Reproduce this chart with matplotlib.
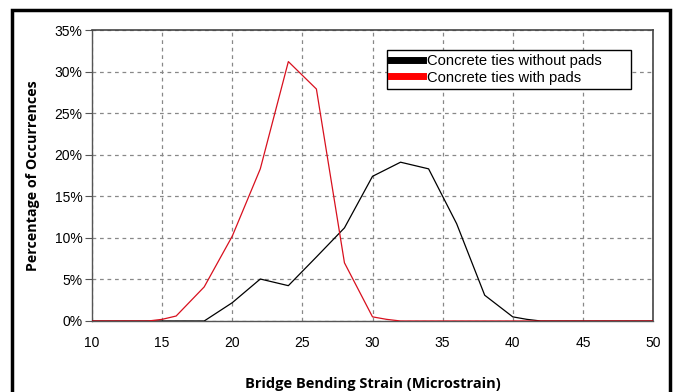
import matplotlib
matplotlib.use("Agg")
import matplotlib.pyplot as plt
from matplotlib.patches import Rectangle
from matplotlib.ticker import FuncFormatter

# Data
x_without = [10, 18, 20, 22, 24, 26, 28, 30, 32, 34, 36, 38, 40, 41, 42, 50]
y_without = [0, 0, 2.2, 5.05, 4.25, 7.7, 11.2, 17.4, 19.1, 18.3, 11.7, 3.1, 0.5, 0.2, 0, 0]
x_with = [10, 14, 15, 16, 18, 20, 22, 24, 26, 28, 30, 31, 32, 50]
y_with = [0, 0, 0.2, 0.6, 4.1, 10.2, 18.3, 31.2, 27.9, 7.0, 0.5, 0.2, 0, 0]
label_without = "Concrete ties without pads"
label_with = "Concrete ties with pads"
x_ticks = [10, 15, 20, 25, 30, 35, 40, 45, 50]
y_ticks = [0, 5, 10, 15, 20, 25, 30, 35]

W, H = 675, 392
fig = plt.figure(figsize=(W / 100, H / 100), dpi=100)
ax = fig.add_axes([92 / W, 1 - 321 / H, (653 - 92) / W, (321 - 30) / H])

ax.plot(x_without, y_without, color="black", lw=0.9, label=label_without, zorder=3)
ax.plot(x_with, y_with, color="#d8101e", lw=0.9, label=label_with, zorder=4)

ax.set_xlim(10, 50)
ax.set_ylim(0, 35)
ax.set_xticks(x_ticks)
ax.set_yticks(y_ticks)
ax.yaxis.set_major_formatter(FuncFormatter(lambda v, p: f"{int(v)}%"))
ax.grid(True, color="#888888", linestyle=(0, (3, 3)), lw=0.9)
ax.set_axisbelow(True)

for s in ["left", "bottom"]:
    ax.spines[s].set_color("#555555")
    ax.spines[s].set_linewidth(1.0)
for s in ["top", "right"]:
    ax.spines[s].set_color("#444444")
    ax.spines[s].set_linewidth(1.2)

ax.tick_params(axis="both", direction="out", length=5, color="#555555", labelsize=10)
for lab in ax.get_xticklabels() + ax.get_yticklabels():
    lab.set_fontfamily("Liberation Sans")
ax.tick_params(axis="x", pad=11, length=0)
ax.tick_params(axis="y", pad=2)

ax.set_xlabel("Bridge Bending Strain (Microstrain)", fontfamily="Open Sans",
              fontweight="bold", fontsize=10.5, labelpad=19)
ax.set_ylabel("Percentage of Occurrences", fontfamily="Open Sans",
              fontweight="bold", fontsize=10.3, labelpad=10)

# legend box spans x 387..631, y 50..89 (pixels)
bx0 = (387 - 92) / 561
bx1 = (631 - 92) / 561
by1 = 1 - (50 - 30) / 291
by0 = 1 - (89 - 30) / 291
leg = ax.legend(loc="upper left", bbox_to_anchor=(bx0, by0, bx1 - bx0, by1 - by0),
                mode="expand", frameon=True, fancybox=False, edgecolor="black", framealpha=1,
                prop={"family": "Liberation Sans", "size": 10.6},
                handlelength=2.15, handletextpad=0.25, borderpad=0.3, labelspacing=0.15,
                borderaxespad=0)
leg.get_frame().set_linewidth(1.0)
for line in leg.get_lines():
    line.set_linewidth(5)
leg.get_lines()[1].set_color("red")

fig.patches.append(Rectangle((12 / W, -0.05), (670 - 12) / W, 1 - 10 / H + 0.05,
                             transform=fig.transFigure, fill=False,
                             edgecolor="black", lw=2.5))

fig.savefig("out.png", dpi=100)
